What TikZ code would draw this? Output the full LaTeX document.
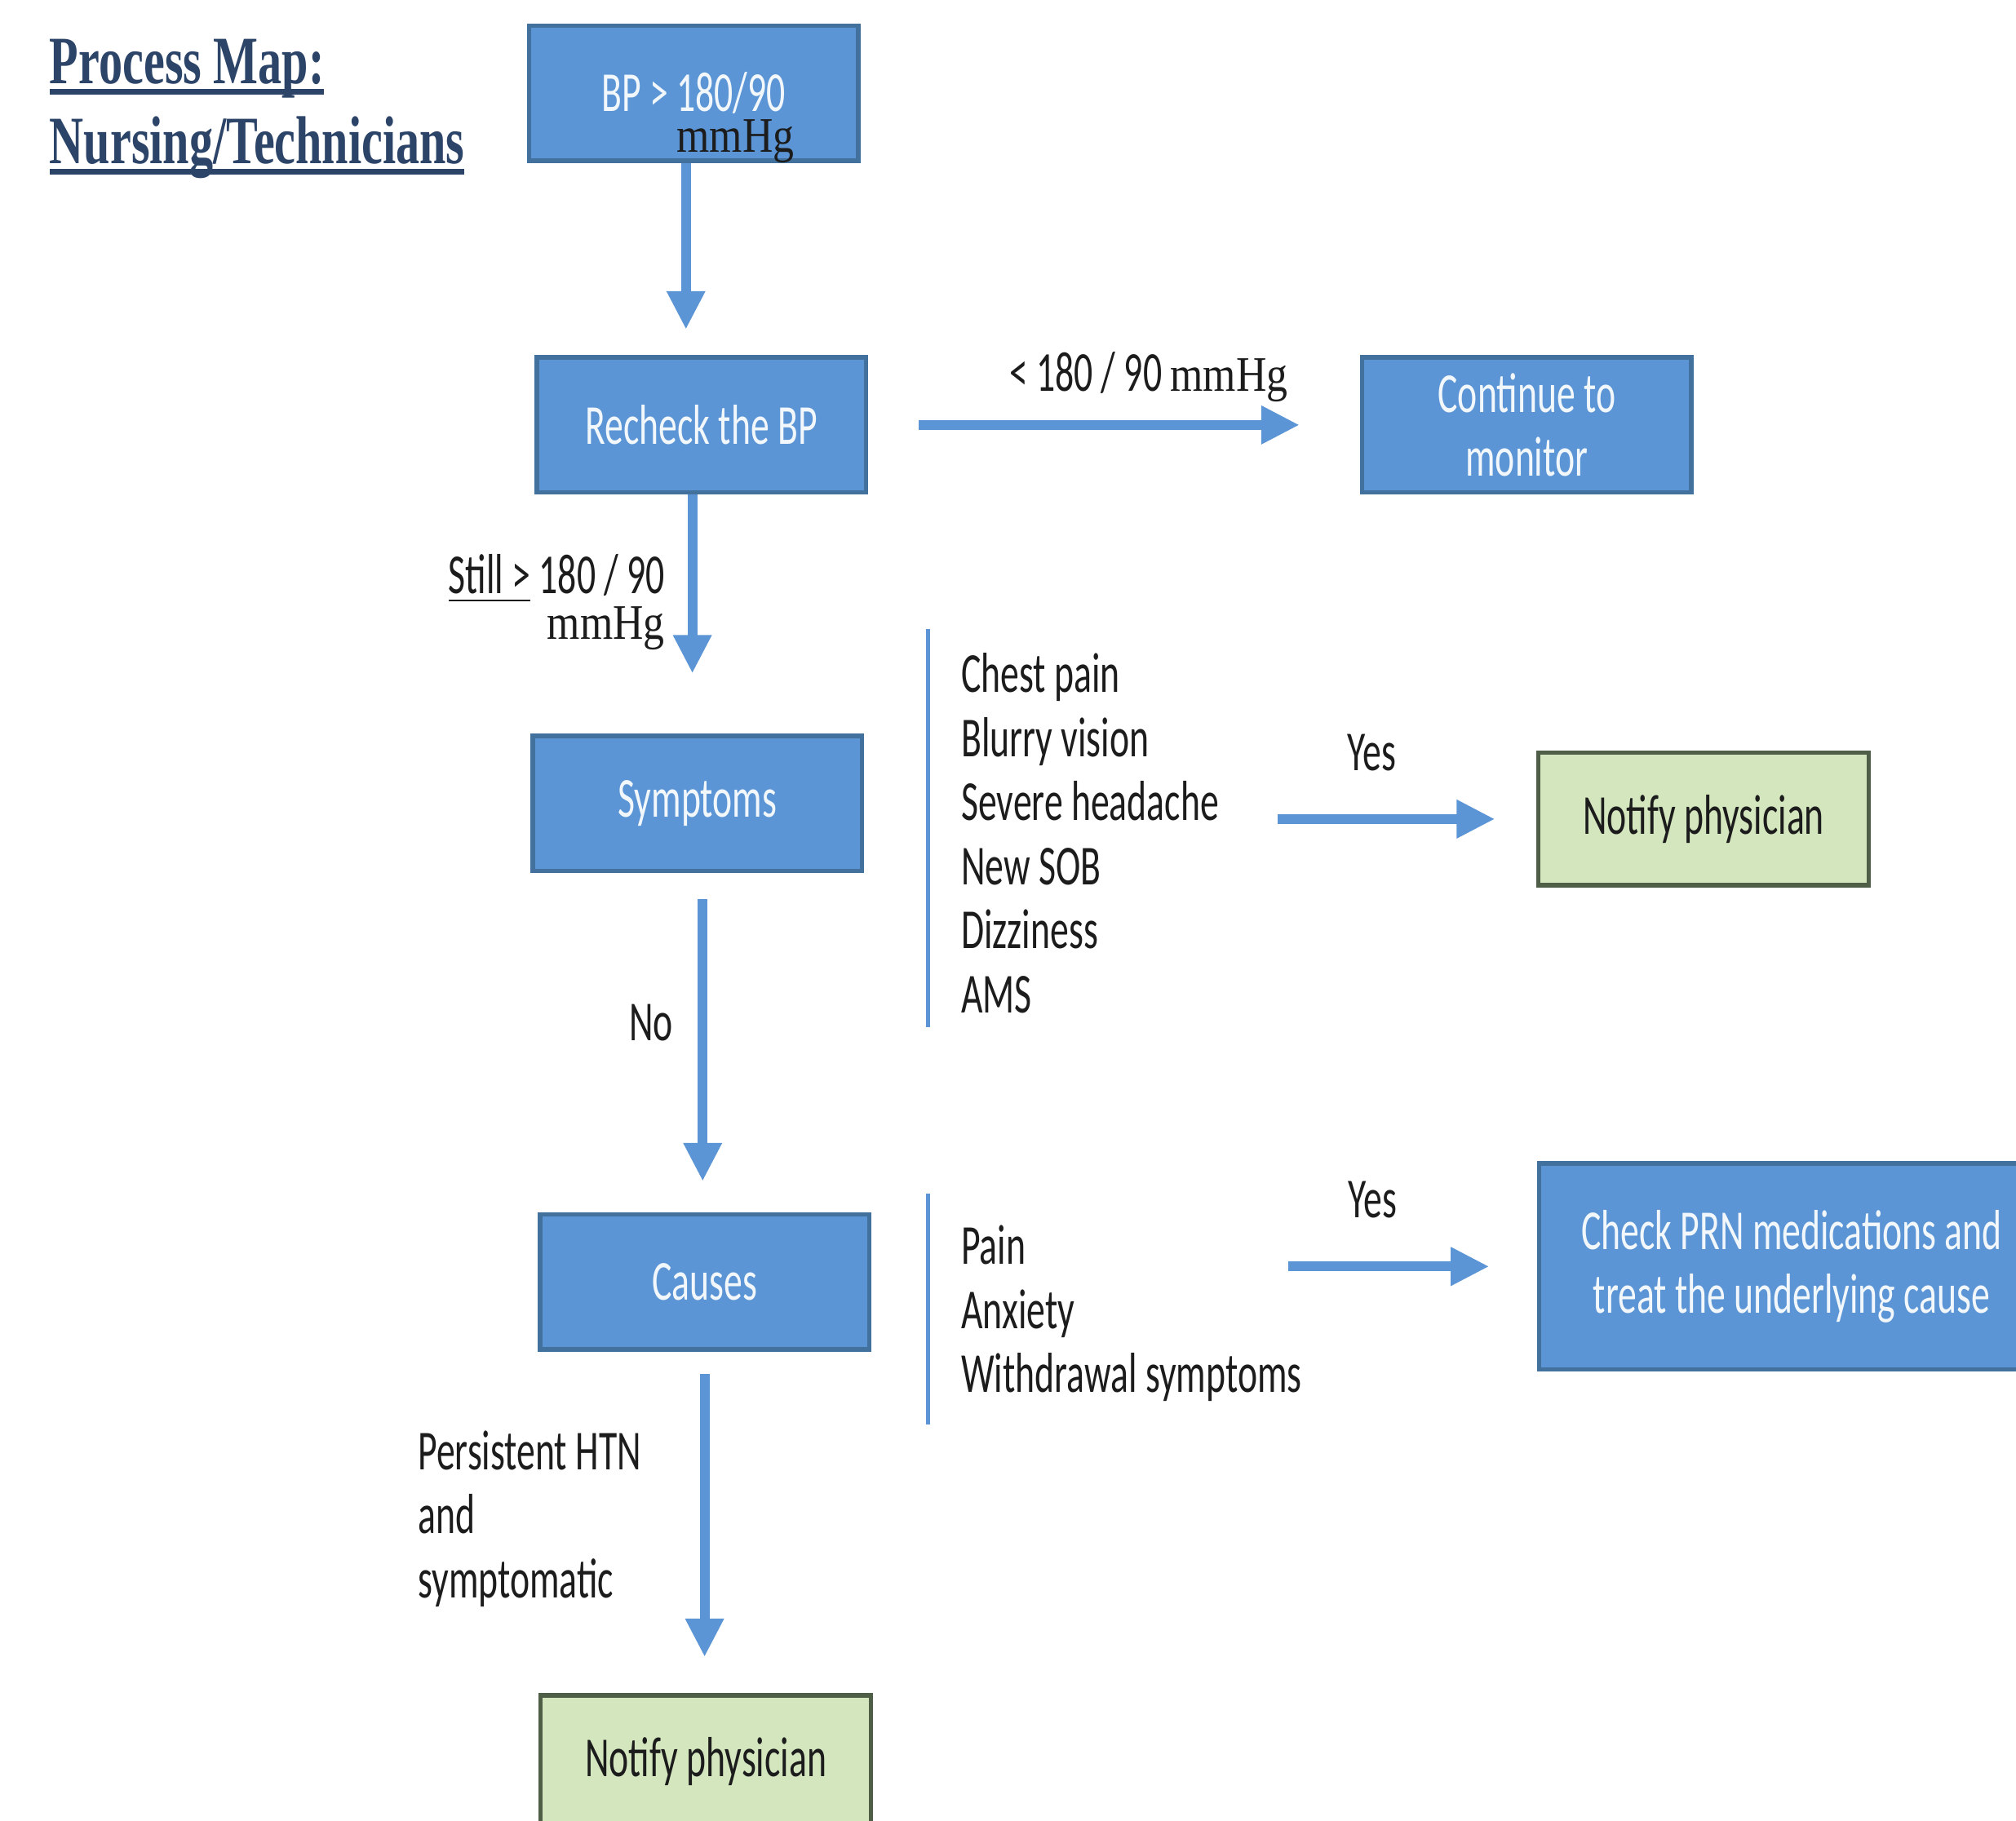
\documentclass[tikz,border=0pt]{standalone}
\usepackage{fontspec}
\setmainfont{Carlito}[FakeStretch=0.66]
\newfontfamily\mmfont{Liberation Serif}[FakeStretch=0.85]
\newfontfamily\titlefont{Liberation Serif}[FakeStretch=0.7]
\usetikzlibrary{positioning, calc, arrows.meta}
\definecolor{boxblue}{HTML}{5B95D5}
\definecolor{boxedge}{HTML}{41719C}
\definecolor{boxgreen}{HTML}{D3E6BE}
\definecolor{greenedge}{HTML}{4F5F47}
\definecolor{titleblue}{HTML}{2B4468}
\definecolor{inktext}{HTML}{1C1C1C}
\tikzstyle{Flow} = [
%Thick blue arrow of the map:
line width=2.2pt, draw=boxblue,
-{Triangle[width=8pt,length=8.5pt]}
]
\tikzstyle{Bar} = [line width=0.9pt, draw=boxblue]
\newcommand{\mmhg}{{\mmfont\fontsize{11}{13}\selectfont mmHg}}
\newcommand{\titleul}[1]{\setbox0\hbox{#1}\rlap{\rule[-2.4pt]{\wd0}{1.2pt}}\box0}

\begin{document}
\begin{tikzpicture}[
				process/.style = {rectangle, draw=boxedge, line width=1pt, fill=boxblue, text=white!92!boxblue, align=center, minimum width=2.56cm, minimum height=1.05cm, font=\fontsize{12.5}{14.2}\selectfont},
				notify/.style = {rectangle, draw=greenedge, line width=1pt, fill=boxgreen, text=inktext, align=center, minimum width=2.57cm, minimum height=1.03cm, font=\fontsize{12.5}{14.2}\selectfont},
				lbl/.style = {text=inktext, inner sep=1pt, font=\fontsize{12.5}{14.2}\selectfont},
				list/.style = {text=inktext, inner sep=0pt, align=left, anchor=west, font=\fontsize{12.5}{14.2}\selectfont},
			]
			\useasboundingbox (0,0) rectangle (15.68,-14.16);

			\node(Title)[anchor=north west, inner sep=0pt, align=left, text=titleblue, font=\titlefont\bfseries\fontsize{15}{17.6}\selectfont] at (0.38,-0.30){\titleul{Process Map:}\\\titleul{Nursing/Technicians}};

			\node(BP)[process] at (5.395,-0.725){BP > 180/90};
			\node(BPUnit)[text=inktext, inner sep=0pt] at (5.72,-1.10){\mmhg};
			\node(Recheck)[process] at (5.455,-3.305){Recheck the BP};
			\node(Continue)[process] at (11.875,-3.305){Continue to\\monitor};
			\node(Symptoms)[process] at (5.425,-6.25){Symptoms};
			\node(NotifyA)[notify] at (13.25,-6.37){Notify physician};
			\node(Causes)[process] at (5.48,-9.97){Causes};
			\node(Check)[process, minimum width=3.93cm, minimum height=1.6cm] at (13.935,-9.85){Check PRN medications and\\treat the underlying cause};
			\node(NotifyB)[notify] at (5.49,-13.70){Notify physician};

			\node(SymList)[list] at (7.47,-6.48){Chest pain\\Blurry vision\\Severe headache\\New SOB\\Dizziness\\AMS};
			\node(CauseList)[list] at (7.47,-10.215){Pain\\Anxiety\\Withdrawal symptoms};
			\draw[Bar]([shift={(-0.25,0.18)}]SymList.north west)--([shift={(-0.25,-0.1)}]SymList.south west);
			\draw[Bar]([shift={(-0.25,0.24)}]CauseList.north west)--([shift={(-0.25,-0.17)}]CauseList.south west);

			\draw[Flow, shorten >=0.2cm]([xshift=-0.06cm]BP.south)--([xshift=-0.06cm]BP.south |- Recheck.north);
			\draw[Flow, shorten <=0.39cm, shorten >=0.47cm](Recheck.east)--node[lbl, pos=0.57, above=3pt] {< 180 / 90 \mmhg}(Continue.west);
			\draw[Flow, shorten >=0.47cm]([xshift=-0.07cm]Recheck.south)--node[lbl, pos=0.45, left=4pt, align=right] {\underline{Still >} 180 / 90\\[-4pt]\mmhg}([xshift=-0.07cm]Recheck.south |- Symptoms.north);
			\draw[Flow, shorten <=0.2cm, shorten >=0.24cm]([xshift=0.04cm]Symptoms.south)--node[lbl, pos=0.44, left=4.5pt] {No}([xshift=0.04cm]Symptoms.south |- Causes.north);
			\draw[Flow, shorten <=0.45cm, shorten >=0.32cm](SymList.east |- NotifyA.west)--node[lbl, pos=0.48, above=0.3cm] {Yes}(NotifyA.west);
			\draw[Flow, shorten <=-0.11cm, shorten >=0.37cm](CauseList.east |- Check.west)--node[lbl, pos=0.3, above=0.3cm] {Yes}(Check.west);
			\draw[Flow, shorten <=0.17cm, shorten >=0.28cm](Causes.south)--node[lbl, pos=0.49, left=0.42cm, align=left] {Persistent HTN\\and\\symptomatic}(Causes.south |- NotifyB.north);
		\end{tikzpicture}
\end{document}
